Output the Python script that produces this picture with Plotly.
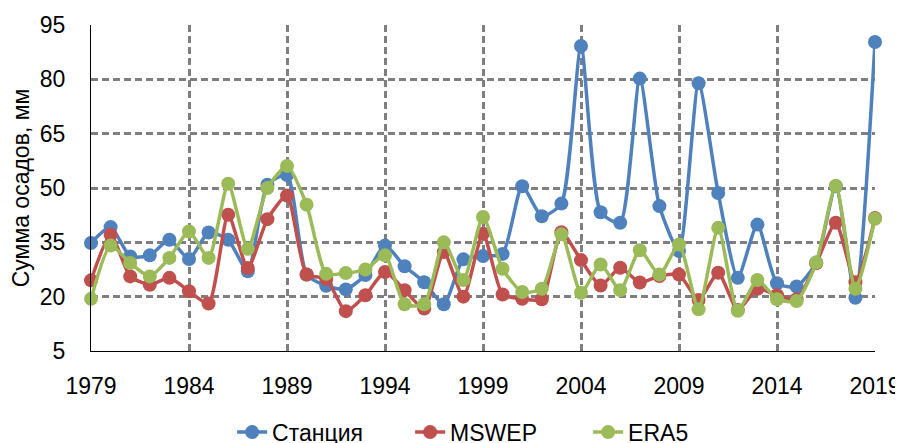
import plotly.graph_objects as go

years = list(range(1979, 2020))

station = [34.8, 39.2, 31.1, 31.4, 35.7, 30.4, 37.7, 35.7, 27.0, 50.9,
           53.6, 26.1, 23.0, 22.0, 26.0, 34.1, 28.4, 24.0, 17.9, 30.3,
           31.2, 31.8, 50.5, 42.2, 45.7, 89.2, 43.3, 40.4, 80.2, 45.0,
           32.6, 78.9, 48.6, 25.2, 39.9, 23.7, 22.8, 29.4, 50.5, 19.7, 90.3]

mswep = [24.5, 37.1, 25.6, 23.3, 25.2, 21.5, 18.1, 42.6, 27.9, 41.4,
         47.9, 26.1, 24.9, 16.0, 20.4, 26.8, 21.8, 16.7, 32.3, 20.0,
         37.4, 20.6, 19.4, 19.3, 37.8, 30.1, 23.1, 28.0, 23.9, 25.7,
         26.1, 19.1, 26.6, 16.3, 22.2, 20.4, 19.3, 29.2, 40.4, 24.0, 41.7]

era5 = [19.4, 34.1, 29.3, 25.6, 30.7, 38.0, 30.7, 51.2, 33.2, 50.0,
        56.1, 45.4, 26.3, 26.5, 27.5, 31.4, 17.9, 17.9, 35.0, 24.6,
        42.0, 27.7, 21.3, 22.2, 37.2, 21.1, 28.9, 21.8, 32.8, 26.1,
        34.4, 16.5, 39.0, 16.1, 24.6, 19.3, 18.8, 29.4, 50.6, 22.2, 41.5]

x_ticks = [1979, 1984, 1989, 1994, 1999, 2004, 2009, 2014, 2019]
y_ticks = [5, 20, 35, 50, 65, 80, 95]

series = [
    ("Станция", station, "#4F81BD"),
    ("MSWEP", mswep, "#C0504D"),
    ("ERA5", era5, "#9BBB59"),
]

fig = go.Figure()
for name, vals, color in series:
    fig.add_trace(go.Scatter(
        x=years, y=vals, name=name, mode="lines+markers",
        line=dict(color=color, width=3.5, shape="spline", smoothing=0.6),
        marker=dict(color=color, size=14),
        cliponaxis=False,
    ))

font_family = "Liberation Sans, Arial, sans-serif"
grid_col = "#7f7f7f"

fig.update_layout(
    width=895, height=435,
    margin=dict(l=83, r=28, t=17, b=92, autoexpand=False),
    paper_bgcolor="white", plot_bgcolor="white",
    font=dict(family=font_family, size=23, color="#000000"),
    showlegend=True,
    legend=dict(orientation="h", x=0.18, xanchor="left",
                yref="container", y=0.025, yanchor="middle",
                font=dict(size=23), tracegroupgap=0,
                entrywidth=133, entrywidthmode="pixels"),
    xaxis=dict(
        range=[1979, 2019], tickvals=x_ticks, ticktext=[str(v) for v in x_ticks],
        showgrid=True, gridcolor=grid_col, gridwidth=2.5, griddash="7px,4px",
        showline=True, linecolor="#000000", linewidth=1,
        zeroline=False, ticks="", ticklabelstandoff=14, automargin=False,
    ),
    yaxis=dict(
        range=[5, 95], tickvals=y_ticks,
        showgrid=True, gridcolor=grid_col, gridwidth=2.5, griddash="7px,4px",
        showline=True, linecolor="#000000", linewidth=1,
        zeroline=False, ticks="", ticklabelstandoff=20, automargin=False,
        title=dict(text="Сумма осадов, мм", font=dict(size=23), standoff=8),
    ),
)

fig.write_html("out.html")
